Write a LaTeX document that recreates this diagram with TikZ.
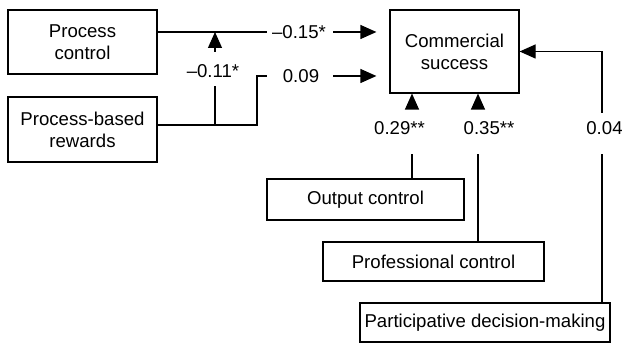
\documentclass[tikz,border=0pt]{standalone}
\usepackage{fontspec}
\setmainfont{Liberation Sans}
\usetikzlibrary{arrows.meta}
\begin{document}
\begin{tikzpicture}[x=1pt,y=-1pt,
  box/.style={draw, line width=1.2pt, inner sep=0pt, align=center, font=\fontsize{18.6}{22}\selectfont},
  lab/.style={inner sep=0pt, font=\fontsize{18.6}{22}\selectfont},
  conn/.style={line width=1.2pt},
  arr/.style={line width=1.2pt, -{Triangle[length=16pt 0,width=14pt 0]}}]
\useasboundingbox (0,0) rectangle (622,344);
% boxes
\node[box, minimum width=149pt, minimum height=64pt] (pc) at (82.5,42) {Process\\control};
\node[box, minimum width=149pt, minimum height=65pt] (pr) at (82.5,129.5) {Process-based\\rewards};
\node[box, minimum width=129pt, minimum height=83pt] (cs) at (454.5,51.5) {Commercial\\success};
\node[box, minimum width=197pt, minimum height=41pt] (oc) at (365.5,199.5) {Output control};
\node[box, minimum width=221pt, minimum height=39pt] (pfc) at (433.5,261.5) {Professional control};
\node[box, minimum width=250pt, minimum height=39pt] (pdm) at (485,322.5) {Participative decision-making};
% labels
\node[lab] (l015) at (299,32) {–0.15*};
\node[lab] (l009) at (301,76) {0.09};
\node[lab] (l011) at (213,71) {–0.11*};
\node[lab] (l029) at (399.5,128) {0.29**};
\node[lab] (l035) at (489,128) {0.35**};
\node[lab] (l004) at (604.5,128) {0.04};
% coordinates
\coordinate (p1) at (267,32);
\coordinate (a1) at (333,32);
\coordinate (a2) at (333,76);
\coordinate (m1) at (215,32);
\coordinate (m2) at (215,125);
\coordinate (m3) at (215,86);
\coordinate (m4) at (215,52);
\coordinate (r1) at (257,125);
\coordinate (r2) at (257,76);
\coordinate (r3) at (267,76);
\coordinate (b1) at (412,107);
\coordinate (b2) at (412,154);
\coordinate (c1) at (478,107);
\coordinate (c2) at (478,154);
\coordinate (d2) at (602,113);
\coordinate (d3) at (602,154);
% connectors
\draw[conn] (pc.east |- p1) -- (p1);
\draw[arr, shorten >=13pt] (a1) -- (cs.west |- a1);
\draw[conn] (pr.east |- m2) -- (r1) -- (r2) -- (r3);
\draw[arr, shorten >=13pt] (a2) -- (cs.west |- a2);
\draw[conn] (m2) -- (m3);
\draw[arr] (m4) -- (m1);
\draw[arr] (b1) -- (cs.south -| b1);
\draw[conn] (oc.north -| b2) -- (b2);
\draw[arr] (c1) -- (cs.south -| c1);
\draw[conn] (pfc.north -| c2) -- (c2);
\draw[arr] (d2) -- (cs.east -| d2) -- (cs.east);
\draw[conn] (pdm.north -| d3) -- (d3);
\end{tikzpicture}
\end{document}
